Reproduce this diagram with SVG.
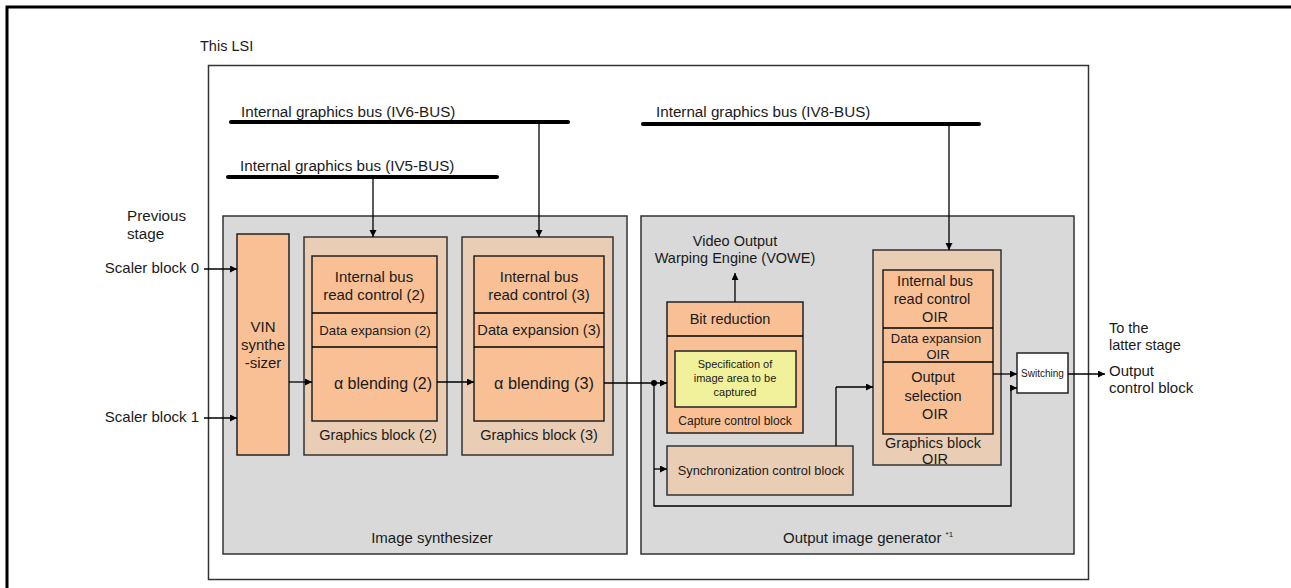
<svg xmlns="http://www.w3.org/2000/svg" width="1291" height="588" viewBox="0 0 1291 588">
<defs>
<style>
text{font-family:"Liberation Sans",Arial,sans-serif;fill:#1a1a1a;font-size:14.5px}
.c{text-anchor:middle}
.b{font-size:15.2px}
.grey{fill:#d9d9d9;stroke:#333;stroke-width:1.5}
.tan{fill:#e9cdb5;stroke:#333;stroke-width:1.5}
.org{fill:#f9c095;stroke:#222;stroke-width:1.5}
.yel{fill:#f2f19b;stroke:#222;stroke-width:1.5}
.wht{fill:#fff;stroke:#222;stroke-width:1.5}
.bus{stroke:#000;stroke-width:4;stroke-linecap:round;fill:none}
.ln{stroke:#000;stroke-width:1.3;fill:none}
.arr{marker-end:url(#ah)}
</style>
<marker id="ah" markerUnits="userSpaceOnUse" markerWidth="8" markerHeight="8" refX="7" refY="3.5" orient="auto">
<path d="M0,0 L7,3.5 L0,7 z" fill="#000"/>
</marker>
</defs>
<rect x="0" y="0" width="1291" height="588" fill="#fff"/>
<rect id="frame" x="7" y="7" width="1292" height="592" fill="none" stroke="#000" stroke-width="3"/>

<g id="lsi">
<text x="200" y="51">This LSI</text>
<rect x="208.5" y="65.5" width="880" height="514" fill="none" stroke="#333" stroke-width="1.5"/>
</g>

<g id="image-synthesizer">
<rect class="grey" x="223" y="216" width="404" height="338"/>
<text class="c" x="432" y="543" style="font-size:15px">Image synthesizer</text>
</g>

<g id="output-image-generator">
<rect class="grey" x="641" y="216" width="433" height="338"/>
<text x="783" y="543" style="font-size:15px">Output image generator <tspan style="font-size:8px" dy="-6">*1</tspan></text>
</g>

<g id="buses">
<line class="bus" x1="231" y1="122" x2="568" y2="122"/>
<text class="b" x="241" y="117">Internal graphics bus (IV6-BUS)</text>
<line class="bus" x1="228" y1="177" x2="497" y2="177"/>
<text class="b" x="240" y="171">Internal graphics bus (IV5-BUS)</text>
<line class="bus" x1="643" y1="124" x2="979" y2="124"/>
<text class="b" x="656" y="117">Internal graphics bus (IV8-BUS)</text>
</g>

<g id="previous-stage">
<text class="b" x="127" y="221">Previous</text>
<text class="b" x="127" y="239">stage</text>
<text x="199" y="273" text-anchor="end" style="font-size:15px">Scaler block 0</text>
<text x="199" y="422" text-anchor="end" style="font-size:15px">Scaler block 1</text>
</g>

<g id="vin-synthesizer">
<rect class="org" x="237" y="234" width="52" height="221"/>
<text class="c" x="263" y="332" style="font-size:15px">VIN</text>
<text class="c" x="263" y="350" style="font-size:15px">synthe</text>
<text class="c" x="263" y="368" style="font-size:15px">-sizer</text>
</g>

<g id="graphics-block-2">
<rect class="tan" x="304" y="237" width="143" height="218"/>
<rect class="org" x="312" y="256" width="125" height="165"/>
<line class="ln" x1="312" y1="313" x2="437" y2="313"/>
<line class="ln" x1="312" y1="347" x2="437" y2="347"/>
<text class="c" x="374" y="282" style="font-size:15px">Internal bus</text>
<text class="c" x="374" y="300" style="font-size:15px">read control (2)</text>
<text class="c" x="375" y="335" style="font-size:13.2px">Data expansion (2)</text>
<text class="c" x="383" y="389" style="font-size:16px">α blending (2)</text>
<text class="c" x="378" y="440">Graphics block (2)</text>
</g>

<g id="graphics-block-3">
<rect class="tan" x="462" y="237" width="151" height="218"/>
<rect class="org" x="474" y="256" width="130" height="165"/>
<line class="ln" x1="474" y1="313" x2="604" y2="313"/>
<line class="ln" x1="474" y1="347" x2="604" y2="347"/>
<text class="c" x="539" y="282" style="font-size:15px">Internal bus</text>
<text class="c" x="539" y="300" style="font-size:15px">read control (3)</text>
<text class="c" x="539" y="335" style="font-size:14.6px">Data expansion (3)</text>
<text class="c" x="544" y="389" style="font-size:16.3px">α blending (3)</text>
<text class="c" x="539" y="440">Graphics block (3)</text>
</g>

<g id="vowe">
<text class="c" x="735" y="246">Video Output</text>
<text class="c" x="735" y="263">Warping Engine (VOWE)</text>
</g>

<g id="capture-control-block">
<rect class="org" x="667" y="302" width="136" height="131"/>
<line class="ln" x1="667" y1="336" x2="803" y2="336"/>
<text class="c" x="730" y="324">Bit reduction</text>
<rect class="yel" x="675" y="351" width="121" height="56"/>
<text class="c" x="735" y="368" style="font-size:11px">Specification of</text>
<text class="c" x="735" y="382" style="font-size:11px">image area to be</text>
<text class="c" x="735" y="396" style="font-size:11px">captured</text>
<text class="c" x="735" y="425" style="font-size:12px">Capture control block</text>
</g>

<g id="synchronization-control-block">
<rect class="tan" x="667" y="446" width="186" height="49"/>
<text class="c" x="761" y="475" style="font-size:12.8px">Synchronization control block</text>
</g>

<g id="graphics-block-oir">
<rect class="tan" x="873" y="250" width="128" height="215"/>
<rect class="org" x="883" y="270" width="110" height="164"/>
<line class="ln" x1="883" y1="328" x2="993" y2="328"/>
<line class="ln" x1="883" y1="362" x2="993" y2="362"/>
<text class="c" x="935" y="286">Internal bus</text>
<text class="c" x="932" y="304">read control</text>
<text class="c" x="935" y="322">OIR</text>
<text class="c" x="936" y="343" style="font-size:13px">Data expansion</text>
<text class="c" x="938" y="359" style="font-size:13px">OIR</text>
<text class="c" x="933" y="382">Output</text>
<text class="c" x="933" y="401">selection</text>
<text class="c" x="935" y="419">OIR</text>
<text class="c" x="933" y="448">Graphics block</text>
<text class="c" x="935" y="464">OIR</text>
</g>

<g id="switching">
<rect class="wht" x="1017" y="353" width="51" height="40"/>
<text class="c" x="1042.5" y="377" style="font-size:10px">Switching</text>
</g>

<g id="latter-stage">
<text x="1109" y="333">To the</text>
<text x="1109" y="350">latter stage</text>
<text x="1109" y="376" style="font-size:15px">Output</text>
<text x="1109" y="393" style="font-size:15px">control block</text>
</g>

<g id="connectors">
<path class="ln arr" d="M539,122 V237"/>
<path class="ln arr" d="M373,177 V237"/>
<path class="ln arr" d="M949,124 V250"/>
<path class="ln arr" d="M204,269 H237"/>
<path class="ln arr" d="M204,418 H237"/>
<path class="ln arr" d="M289,382 H312"/>
<path class="ln arr" d="M437,382 H474"/>
<path class="ln arr" d="M604,383 H667"/>
<circle cx="654" cy="383" r="3" fill="#000"/>
<path class="ln" d="M654,383 V506 H1011 V388"/>
<path class="ln arr" d="M1011,388 H1017"/>
<path class="ln arr" d="M654,469 H667"/>
<path class="ln arr" d="M735,302 V273"/>
<path class="ln" d="M836,446 V387"/>
<path class="ln arr" d="M836,387 H873"/>
<path class="ln arr" d="M993,374 H1017"/>
<path class="ln arr" d="M1068,374 H1105"/>
</g>
</svg>
